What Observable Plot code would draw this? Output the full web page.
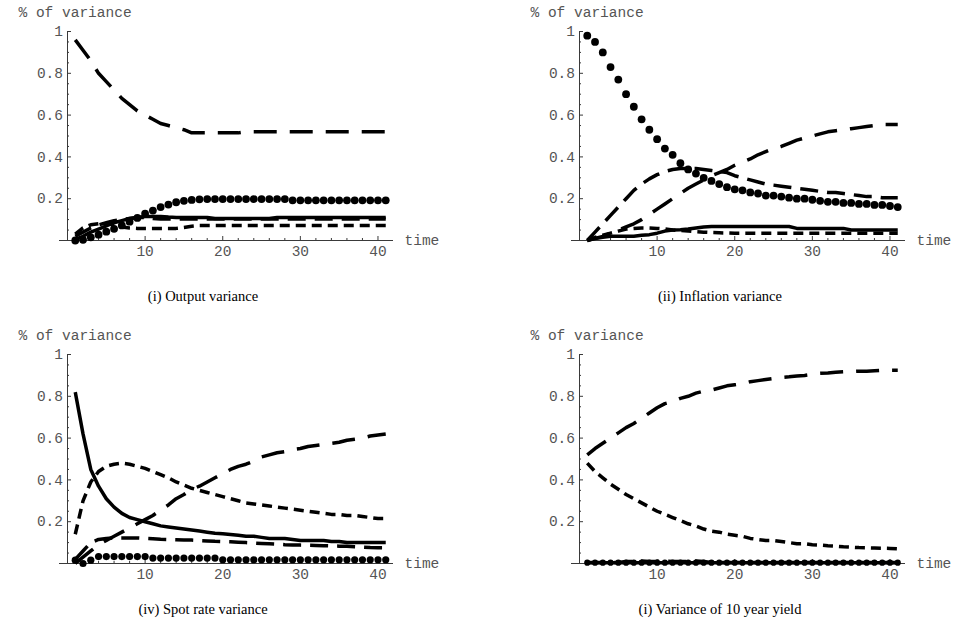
<!DOCTYPE html>
<html><head><meta charset="utf-8">
<script src="https://cdn.jsdelivr.net/npm/d3@7"></script>
<script src="https://cdn.jsdelivr.net/npm/@observablehq/plot@0.6"></script>
<style>
body{margin:0;background:#fff;}
#wrap{position:relative;width:975px;height:630px;overflow:hidden;background:#fff;}
.panel{position:absolute;}
.cap{position:absolute;font-family:"Liberation Serif",serif;font-size:14.5px;text-align:center;line-height:16px;color:#000;}
</style></head><body><div id="wrap"></div>
<script>
// ---- data ----
const time = [1,2,3,4,5,6,7,8,9,10,11,12,13,14,15,16,17,18,19,20,21,22,23,24,25,26,27,28,29,30,31,32,33,34,35,36,37,38,39,40,41];
const yTicks = [0.2,0.4,0.6,0.8,1];
const yMinorTicks = [0.05,0.1,0.15,0.25,0.3,0.35,0.45,0.5,0.55,0.65,0.7,0.75,0.85,0.9,0.95];
const xTicks = [10,20,30,40];
const xMinorTicks = [2,4,6,8,12,14,16,18,22,24,26,28,32,34,36,38];
const captions = ["(i) Output variance","(ii) Inflation variance","(iv) Spot rate variance","(i) Variance of 10 year yield"];

// (i) Output variance
const outSolid = [0.005,0.02,0.04,0.055,0.07,0.085,0.095,0.105,0.11,0.115, 0.115,0.115,0.112,0.11,0.11,0.11,0.11,0.11,0.105,0.105, 0.105,0.105,0.105,0.105,0.105,0.105,0.11,0.11,0.11,0.11, 0.11,0.11,0.11,0.11,0.11,0.11,0.11,0.11,0.11,0.11, 0.11];
const outShort = [0.03,0.06,0.075,0.08,0.08,0.075,0.065,0.06,0.058,0.058, 0.058,0.058,0.058,0.058,0.062,0.068,0.072,0.072,0.072,0.072, 0.072,0.072,0.072,0.072,0.072,0.072,0.072,0.072,0.072,0.072, 0.072,0.072,0.072,0.072,0.072,0.072,0.072,0.072,0.072,0.072, 0.072];
const outMedium = [0.02,0.04,0.06,0.075,0.085,0.095,0.1,0.105,0.11,0.11, 0.105,0.103,0.103,0.103,0.103,0.103,0.103,0.103,0.103,0.103, 0.103,0.103,0.103,0.103,0.103,0.103,0.103,0.103,0.103,0.103, 0.103,0.103,0.103,0.103,0.103,0.103,0.103,0.103,0.103,0.103, 0.103];
const outLong = [0.96,0.91,0.86,0.8,0.76,0.72,0.68,0.65,0.62,0.6, 0.58,0.56,0.55,0.54,0.53,0.515,0.515,0.515,0.515,0.515, 0.515,0.515,0.52,0.52,0.52,0.52,0.52,0.52,0.52,0.52, 0.52,0.52,0.52,0.52,0.52,0.52,0.52,0.52,0.52,0.52, 0.52];
const outDots = [0,0.003,0.015,0.028,0.042,0.056,0.072,0.09,0.108,0.128, 0.143,0.16,0.172,0.183,0.19,0.194,0.197,0.198,0.198,0.198, 0.198,0.198,0.198,0.198,0.198,0.198,0.198,0.198,0.192,0.192, 0.192,0.192,0.192,0.192,0.192,0.192,0.192,0.192,0.192,0.192, 0.192];

// (ii) Inflation variance
const infSolid = [0,0.01,0.015,0.02,0.02,0.02,0.02,0.025,0.028,0.035, 0.045,0.05,0.052,0.055,0.06,0.065,0.067,0.067,0.067,0.067, 0.067,0.067,0.067,0.067,0.067,0.067,0.067,0.058,0.058,0.058, 0.058,0.058,0.058,0.058,0.05,0.05,0.05,0.05,0.05,0.05, 0.05];
const infShort = [0,0.015,0.025,0.035,0.045,0.055,0.058,0.06,0.06,0.058, 0.055,0.05,0.048,0.045,0.042,0.04,0.038,0.037,0.036,0.035, 0.035,0.035,0.035,0.035,0.035,0.035,0.035,0.035,0.035,0.035, 0.035,0.035,0.035,0.035,0.035,0.035,0.035,0.035,0.035,0.035, 0.035];
const infMedium = [0,0.04,0.08,0.12,0.16,0.2,0.24,0.27,0.295,0.315, 0.33,0.34,0.345,0.345,0.345,0.34,0.335,0.33,0.325,0.31, 0.3,0.29,0.28,0.27,0.265,0.26,0.255,0.25,0.245,0.24, 0.235,0.23,0.23,0.225,0.22,0.215,0.21,0.21,0.205,0.205, 0.205];
const infLong = [0,0.01,0.02,0.035,0.05,0.065,0.08,0.1,0.125,0.15, 0.175,0.2,0.225,0.25,0.27,0.29,0.31,0.325,0.34,0.36, 0.375,0.39,0.41,0.425,0.44,0.45,0.465,0.48,0.49,0.5, 0.51,0.52,0.525,0.53,0.535,0.54,0.545,0.55,0.555,0.555, 0.555];
const infDots = [0.98,0.95,0.9,0.83,0.77,0.7,0.64,0.58,0.53,0.485, 0.44,0.41,0.37,0.34,0.32,0.3,0.285,0.27,0.255,0.245, 0.24,0.23,0.225,0.215,0.215,0.21,0.205,0.2,0.2,0.195, 0.19,0.185,0.185,0.18,0.18,0.175,0.175,0.17,0.17,0.165, 0.16];

// (iv) Spot rate variance
const spotSolid = [0.82,0.62,0.45,0.37,0.31,0.27,0.24,0.22,0.21,0.2, 0.19,0.18,0.175,0.17,0.165,0.16,0.155,0.15,0.145,0.142, 0.139,0.135,0.13,0.13,0.125,0.12,0.12,0.12,0.115,0.11, 0.11,0.11,0.11,0.105,0.105,0.1,0.1,0.1,0.1,0.1, 0.1];
const spotShort = [0.14,0.3,0.39,0.44,0.465,0.475,0.48,0.475,0.465,0.455, 0.44,0.425,0.41,0.39,0.375,0.36,0.35,0.34,0.33,0.32, 0.31,0.3,0.29,0.285,0.28,0.275,0.27,0.265,0.26,0.255, 0.25,0.245,0.24,0.235,0.235,0.23,0.23,0.225,0.22,0.215, 0.215];
const spotMedium = [0.02,0.06,0.1,0.115,0.12,0.122,0.122,0.122,0.122,0.12, 0.118,0.116,0.115,0.114,0.113,0.112,0.11,0.108,0.106,0.105, 0.104,0.102,0.1,0.098,0.096,0.094,0.092,0.09,0.089,0.088, 0.087,0.086,0.085,0.084,0.083,0.082,0.08,0.078,0.076,0.075, 0.075];
const spotLong = [0,0.03,0.06,0.09,0.11,0.13,0.15,0.17,0.19,0.21, 0.23,0.255,0.28,0.31,0.33,0.355,0.37,0.39,0.41,0.43, 0.45,0.465,0.475,0.49,0.51,0.52,0.53,0.535,0.545,0.55, 0.56,0.565,0.57,0.575,0.58,0.59,0.595,0.6,0.61,0.615, 0.62];
const spotDots = [0.016,0,0.016,0.033,0.033,0.033,0.033,0.033,0.033,0.033, 0.026,0.026,0.026,0.026,0.026,0.026,0.026,0.026,0.026,0.018, 0.018,0.018,0.018,0.018,0.018,0.018,0.018,0.018,0.018,0.018, 0.018,0.018,0.018,0.018,0.018,0.018,0.018,0.018,0.018,0.018, 0.018];

// (i) Variance of 10 year yield
const ylSolid = [0.004,0.004,0.004,0.004,0.004,0.004,0.004,0.004,0.004,0.004, 0.004,0.004,0.004,0.004,0.004,0.004,0.004,0.004,0.004,0.004, 0.004,0.004,0.004,0.004,0.004,0.004,0.004,0.004,0.004,0.004, 0.004,0.004,0.004,0.004,0.004,0.004,0.004,0.004,0.004,0.004, 0.004];
const ylShort = [0.48,0.44,0.41,0.38,0.355,0.33,0.31,0.29,0.27,0.25, 0.235,0.22,0.205,0.19,0.18,0.165,0.155,0.15,0.14,0.135, 0.13,0.12,0.115,0.11,0.11,0.105,0.1,0.095,0.095,0.09, 0.088,0.085,0.083,0.08,0.078,0.076,0.075,0.074,0.073,0.072, 0.07];
const ylMedium = [0.005,0.005,0.005,0.005,0.005,0.01,0.01,0.012,0.01,0.01, 0.012,0.01,0.01,0.01,0.012,0.01,0.005,0.005,0.005,0.005, 0.005,0.005,0.005,0.005,0.005,0.005,0.005,0.005,0.005,0.005, 0.005,0.005,0.005,0.005,0.005,0.005,0.005,0.005,0.005,0.005, 0.005];
const ylLong = [0.52,0.55,0.575,0.6,0.625,0.65,0.67,0.695,0.72,0.745, 0.765,0.775,0.79,0.8,0.815,0.825,0.83,0.84,0.85,0.855, 0.86,0.87,0.875,0.88,0.885,0.89,0.893,0.897,0.9,0.905, 0.91,0.912,0.915,0.917,0.918,0.92,0.92,0.922,0.924,0.925, 0.925];
const ylDots = [0.004,0.004,0.004,0.004,0.004,0.004,0.004,0.004,0.004,0.004, 0.004,0.004,0.004,0.004,0.004,0.004,0.004,0.004,0.004,0.004, 0.004,0.004,0.004,0.004,0.004,0.004,0.004,0.004,0.004,0.004, 0.004,0.004,0.004,0.004,0.004,0.004,0.004,0.004,0.004,0.004, 0.004];

// ---- layout / style ----
const axisColor = "#3a3a3a";
const labelColor = "#555";
const dashes = {solid: null, short: "10,6", medium: "18,9", long: "23,13"};
const panels = [
  {s: {solid: outSolid, short: outShort, medium: outMedium, long: outLong}, dots: outDots, cap: captions[0], left: 0, top: 0, capLeft: 0, capW: 406, capTop: 288, r: 3.9},
  {s: {solid: infSolid, short: infShort, medium: infMedium, long: infLong}, dots: infDots, cap: captions[1], left: 512, top: 0, capLeft: 512, capW: 416, capTop: 288, r: 3.9},
  {s: {solid: spotSolid, short: spotShort, medium: spotMedium, long: spotLong}, dots: spotDots, cap: captions[2], left: 0, top: 323, capLeft: 0, capW: 406, capTop: 601, r: 3.6},
  {s: {solid: ylSolid, short: ylShort, medium: ylMedium, long: ylLong}, dots: ylDots, cap: captions[3], left: 512, top: 323, capLeft: 512, capW: 416, capTop: 601, r: 3.1}
];

const wrap = document.getElementById("wrap");
const rows = vals => time.map((t, i) => ({t, v: vals[i]}));

for (const p of panels) {
  const lineMarks = Object.keys(p.s).map(k => Plot.line(rows(p.s[k]), {
    x: "t", y: "v", stroke: "black", strokeWidth: 3.5,
    strokeDasharray: dashes[k], strokeLinejoin: "round", strokeLinecap: "butt"
  }));
  const chart = Plot.plot({
    width: 460, height: 270,
    marginLeft: 67, marginRight: 67, marginTop: 31, marginBottom: 30,
    x: {domain: [0, 42], label: null},
    y: {domain: [0, 1], label: null},
    style: {fontFamily: "'Liberation Mono', monospace", fontSize: "14.5px", background: "transparent", color: axisColor},
    marks: [
      Plot.ruleY([0], {stroke: axisColor, strokeWidth: 1, insetLeft: -8}),
      Plot.ruleX([0], {stroke: axisColor, strokeWidth: 1}),
      Plot.axisY(yTicks, {anchor: "left", tickSize: -4, tickPadding: 8.5, tickFormat: d => String(d), label: null, stroke: axisColor, fill: labelColor}),
      Plot.axisY(yMinorTicks, {anchor: "left", tickSize: -2, tickPadding: 0, tickFormat: () => "", label: null, stroke: axisColor}),
      Plot.axisX(xTicks, {anchor: "bottom", tickSize: -4, tickPadding: 9, tickFormat: d => String(d), label: null, stroke: axisColor, fill: labelColor}),
      Plot.axisX(xMinorTicks, {anchor: "bottom", tickSize: -2, tickPadding: 0, tickFormat: () => "", label: null, stroke: axisColor}),
      ...lineMarks,
      Plot.dot(rows(p.dots), {x: "t", y: "v", r: p.r, fill: "black", stroke: "none"}),
      Plot.text(["% of variance"], {frameAnchor: "top-left", textAnchor: "start", lineAnchor: "middle", dx: -49, dy: -19, fill: labelColor}),
      Plot.text(["time"], {frameAnchor: "bottom-right", textAnchor: "start", lineAnchor: "middle", dx: 11, fill: labelColor})
    ]
  });
  const div = document.createElement("div");
  div.className = "panel";
  div.style.left = p.left + "px";
  div.style.top = p.top + "px";
  div.appendChild(chart);
  wrap.appendChild(div);
  const cap = document.createElement("div");
  cap.className = "cap";
  cap.style.left = p.capLeft + "px";
  cap.style.width = p.capW + "px";
  cap.style.top = p.capTop + "px";
  cap.textContent = p.cap;
  wrap.appendChild(cap);
}
</script></body></html>
